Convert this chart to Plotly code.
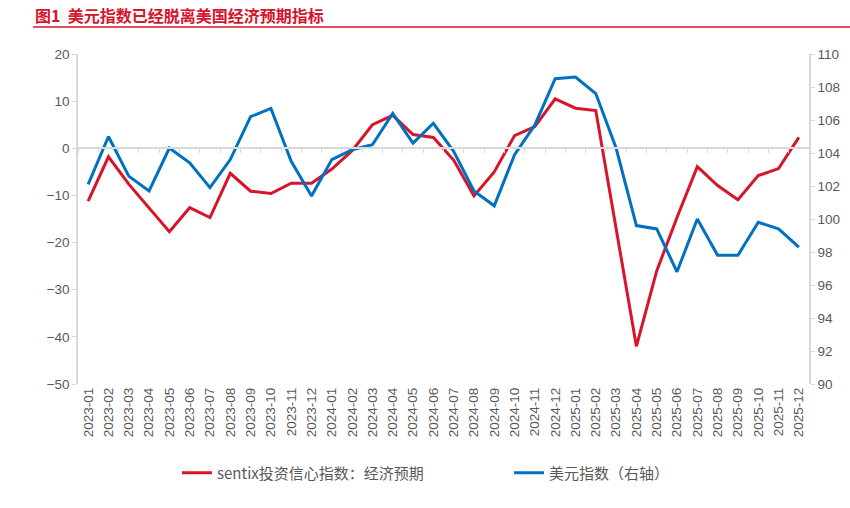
import plotly.graph_objects as go

months = [f"{y}-{m:02d}" for y in (2023, 2024, 2025) for m in range(1, 13)]

sentix = [-11.2, -1.8, -7.6, -12.6, -17.7, -12.6, -14.7, -5.3, -9.1, -9.6, -7.4, -7.4,
          -4.4, -0.5, 5.0, 7.0, 2.9, 2.3, -2.5, -10.1, -5.0, 2.7, 4.6, 10.5,
          8.5, 8.0, -16.8, -42.0, -26.0, -14.7, -3.9, -7.9, -10.9, -5.8, -4.3, 2.3]

dxy = [102.1, 105.0, 102.6, 101.7, 104.3, 103.4, 101.9, 103.6, 106.2, 106.7, 103.5, 101.4,
       103.6, 104.2, 104.5, 106.4, 104.6, 105.8, 104.1, 101.7, 100.8, 103.9, 105.7, 108.5,
       108.6, 107.6, 104.3, 99.6, 99.4, 96.8, 100.0, 97.8, 97.8, 99.8, 99.4, 98.3]

RED = "#d7142a"
BLUE = "#0070c0"
GRAY = "#595959"
AXIS = "#d9d9d9"
FONT = "Liberation Sans, Noto Sans CJK SC, sans-serif"
CJK = "Noto Sans CJK SC, Liberation Sans, sans-serif"

W, H = 850, 508
L, R, T, B = 78, 41, 54, 124

fig = go.Figure()
fig.add_trace(go.Scatter(x=months, y=sentix, mode="lines", name="sentix投资信心指数：经济预期",
                         line=dict(color=RED, width=3), yaxis="y", xaxis="x"))
fig.add_trace(go.Scatter(x=months, y=dxy, mode="lines", name="美元指数（右轴）",
                         line=dict(color=BLUE, width=3), yaxis="y2", xaxis="x"))
# invisible trace to carry the zero-line category axis
fig.add_trace(go.Scatter(x=months, y=[None] * len(months), mode="lines", showlegend=False,
                         hoverinfo="skip", xaxis="x2", yaxis="y"))

ymin, ymax = -50, 20
zero_pos = (0 - ymin) / (ymax - ymin)
plot_w = W - L - R
plot_h = H - T - B

fig.update_layout(
    width=W, height=H,
    margin=dict(l=L, r=R, t=T, b=B, autoexpand=False),
    paper_bgcolor="white", plot_bgcolor="white",
    font=dict(family=CJK, color=GRAY, size=12),
    xaxis=dict(type="category", categoryorder="array", categoryarray=months,
               showgrid=False, showline=False, zeroline=False, ticks="",
               tickangle=-90, tickfont=dict(family=FONT, size=13.5, color=GRAY),
               range=[-0.5, len(months) - 0.5], automargin=False),
    xaxis2=dict(type="category", categoryorder="array", categoryarray=months,
                overlaying="x", anchor="free", position=zero_pos,
                showgrid=False, showline=True, linecolor=AXIS, linewidth=1.5,
                ticks="outside", tickson="boundaries", ticklen=4, tickcolor=AXIS,
                showticklabels=False, range=[-0.5, len(months) - 0.5], automargin=False),
    yaxis=dict(range=[ymin, ymax], dtick=10, showgrid=False, zeroline=False,
               showline=True, linecolor=AXIS, linewidth=1.5, ticks="outside",
               ticklen=4, tickcolor=AXIS, automargin=False,
               tickfont=dict(family=FONT, size=13.5, color=GRAY)),
    yaxis2=dict(range=[90, 110], dtick=2, overlaying="y", side="right",
                showgrid=False, zeroline=False, showline=True, linecolor=AXIS,
                linewidth=1.5, ticks="outside", ticklen=4, tickcolor=AXIS, automargin=False,
                tickfont=dict(family=FONT, size=13.5, color=GRAY)),
    legend=dict(orientation="h", x=(177 - L) / plot_w, xanchor="left",
                y=(H - B - 473) / plot_h, yanchor="middle",
                entrywidth=287, entrywidthmode="pixels",
                font=dict(family=CJK, size=15, color=GRAY), itemwidth=30,
                bgcolor="rgba(0,0,0,0)"),
    showlegend=True,
)

fig.add_annotation(text="<b>图1  美元指数已经脱离美国经济预期指标</b>",
                   xref="paper", yref="paper",
                   x=(33 - L) / plot_w, y=(H - B - 14.5) / plot_h,
                   xanchor="left", yanchor="middle", showarrow=False,
                   font=dict(family=CJK, size=16, color=RED))
fig.add_shape(type="line", xref="paper", yref="paper",
              x0=(33 - L) / plot_w, x1=(W - L) / plot_w,
              y0=(H - B - 27) / plot_h, y1=(H - B - 27) / plot_h,
              line=dict(color=RED, width=1.5))

fig.write_html("out.html",
               config={"displayModeBar": False},
               post_script="document.body.style.margin='0';document.body.style.overflow='hidden';")
